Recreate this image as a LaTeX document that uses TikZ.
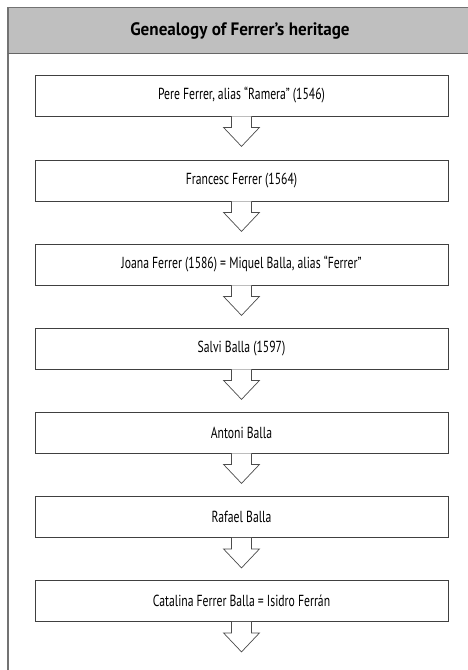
\documentclass[tikz,border=0pt]{standalone}
\usepackage{fontspec}
\setmainfont{PT Sans}[FakeStretch=0.73]
\newfontfamily\titlefont{PT Sans}[FakeStretch=0.95]
\begin{document}
\begin{tikzpicture}[x=1pt,y=-1pt,
  framecol/.style={draw=black!55, line width=1.3pt},
  stepbox/.style={draw=black!75, line width=0.8pt, fill=white, minimum width=413pt, minimum height=41pt, inner sep=0pt, font=\fontsize{16}{18}\selectfont},
  headtext/.style={font=\titlefont\bfseries\fontsize{18}{20}\selectfont, inner sep=0pt},
  arrowline/.style={draw=black!70, line width=0.7pt, fill=white, line join=miter}
]
\newcommand\flowarrow[1]{%
  \draw[arrowline] ([xshift=-10pt]#1.south) -- ++(0,11) -- ++(-8,0) -- ++(18,19) -- ++(18,-19) -- ++(-8,0) -- ++(0,-11);}
\useasboundingbox (0,0) rectangle (468,670);
\fill[black!25] (8,7.5) rectangle (475,53);
\draw[framecol] (8,680) -- (8,7.5) -- (475,7.5);
\draw[draw=black!60, line width=1pt] (8,53) -- (475,53);
\node[headtext] (title) at (240,31) {Genealogy of Ferrer’s heritage};
\node[stepbox] (b1) at (241.5,95.5) {Pere Ferrer, alias “Ramera” (1546)};
\node[stepbox] (b2) at (241.5,180.5) {Francesc Ferrer (1564)};
\node[stepbox] (b3) at (241.5,264.5) {Joana Ferrer (1586) = Miquel Balla, alias “Ferrer”};
\node[stepbox] (b4) at (241.5,348.5) {Salvi Balla (1597)};
\node[stepbox] (b5) at (241.5,432.5) {Antoni Balla};
\node[stepbox] (b6) at (241.5,517) {Rafael Balla};
\node[stepbox] (b7) at (241.5,601) {Catalina Ferrer Balla = Isidro Ferrán};
\flowarrow{b1}
\flowarrow{b2}
\flowarrow{b3}
\flowarrow{b4}
\flowarrow{b5}
\flowarrow{b6}
\flowarrow{b7}
\end{tikzpicture}
\end{document}
